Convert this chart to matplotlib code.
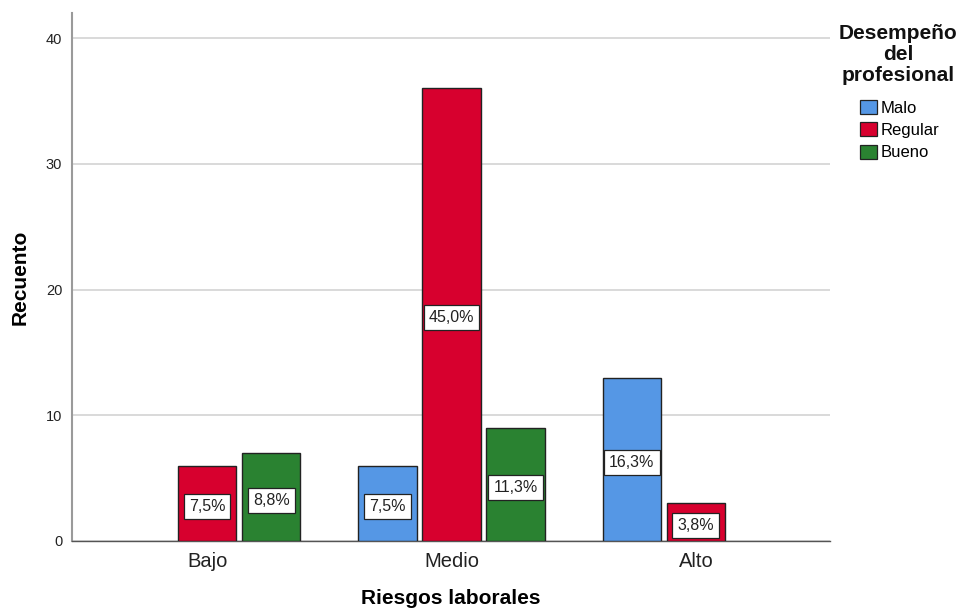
import numpy as np
import matplotlib
matplotlib.use('Agg')
import matplotlib.pyplot as plt
from matplotlib.patches import Patch

plt.rcParams['font.family'] = ['Liberation Sans', 'DejaVu Sans']

# datos
categorias = ['Bajo', 'Medio', 'Alto']
malo = [0, 6, 13]
regular = [6, 36, 3]
bueno = [7, 9, 0]
total = 80
series = ['Malo', 'Regular', 'Bueno']
colores = ['#5597E5', '#D7002E', '#2A8231']

fig = plt.figure(figsize=(9.63, 6.15), dpi=100)
ax = fig.add_axes([72/963, 1-541/615, (830-72)/963, (541-13)/615])

x = np.arange(len(categorias))
ancho = 0.238
desp = 0.262
for k, (vals, col) in enumerate(zip([malo, regular, bueno], colores)):
    for i, v in enumerate(vals):
        if v == 0:
            continue
        xi = x[i] + (k-1)*desp
        ax.bar(xi, v, ancho, color=col, edgecolor='#222222', linewidth=1.0, zorder=3)
        pct = f"{np.floor(v/total*1000 + 0.5)/10:.1f}%".replace('.', ',')
        ax.text(xi, v/2 - 0.25, pct, ha='center', va='center', fontsize=11.5, zorder=4,
                color='#222222',
                bbox=dict(boxstyle='square,pad=0.32', fc='white', ec='#222222', lw=0.9))

ax.set_xlim(-0.553, 2.549)
ax.set_ylim(0, 42)
ax.set_yticks([0, 10, 20, 30, 40])
ax.set_xticks(x)
ax.set_xticklabels(categorias, fontsize=14.5, color='#222222')
ax.tick_params(axis='y', length=0, labelsize=10.5, labelcolor='#222222', pad=7)
ax.tick_params(axis='x', length=0, pad=8)
ax.grid(axis='y', color='#CFCFCF', linewidth=1.1, zorder=0)
for s in ['top', 'right']:
    ax.spines[s].set_visible(False)
ax.spines['left'].set_color('#9A9A9A')
ax.spines['left'].set_linewidth(1.5)
ax.spines['bottom'].set_color('#555555')
ax.spines['bottom'].set_linewidth(1.0)

ax.set_xlabel('Riesgos laborales', fontsize=15, fontweight='bold', labelpad=13)
ax.set_ylabel('Recuento', fontsize=15, fontweight='bold', labelpad=12)

# leyenda
fig.text(898/963, 1-24/615, 'Desempeño\ndel\nprofesional', ha='center', va='top',
         fontsize=15, fontweight='bold', linespacing=1.12, color='#111111')
handles = [Patch(facecolor=c, edgecolor='#222222', linewidth=0.9) for c in colores]
fig.legend(handles, series, loc='upper left', bbox_to_anchor=(860/963, 1-100/615),
           frameon=False, fontsize=12, borderpad=0, borderaxespad=0,
           handlelength=1.0, handleheight=0.9, handletextpad=0.25, labelspacing=0.4)

fig.savefig('out.png', dpi=100)
